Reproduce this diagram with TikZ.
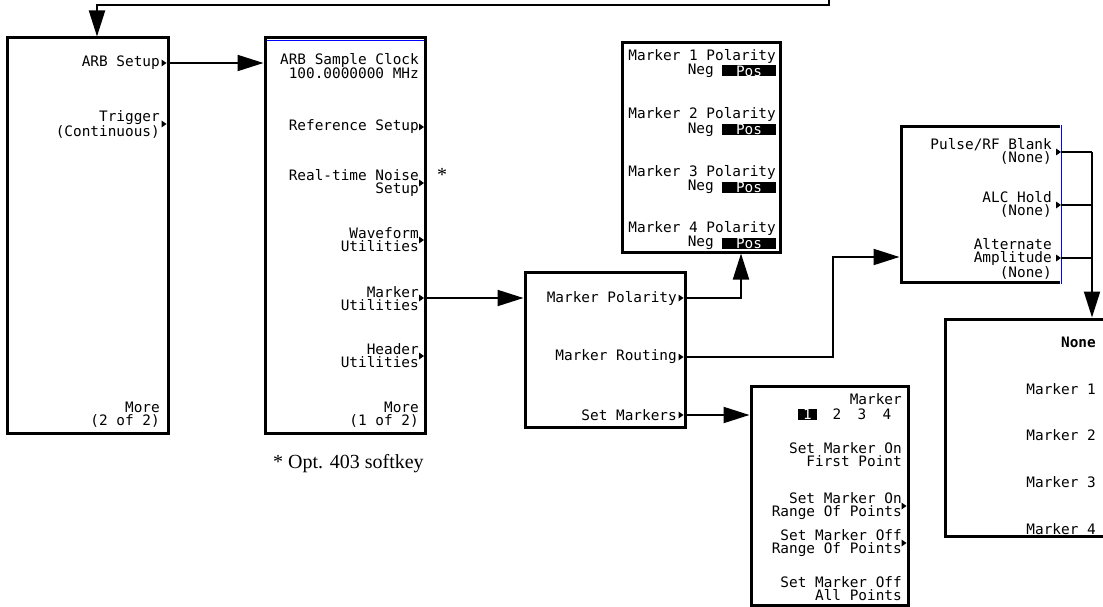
\documentclass[tikz,border=0pt]{standalone}
\usepackage{fontspec}
\setmainfont{Liberation Serif}
\newfontfamily\keyfont{DejaVu Sans Mono}
\usetikzlibrary{arrows.meta,calc}
\newcommand\skey[1]{\fill (#1) -- ++(-5,-3.5) -- ++(0,7) -- cycle;}
\begin{document}
\begin{tikzpicture}[x=1pt,y=-1pt,
  panel/.style={draw, line width=3pt, inner sep=0pt},
  conn/.style={line width=2pt},
  arr/.style={-{Triangle[length=26pt,width=16pt]}},
  key/.style={font=\keyfont\fontsize{14.4}{13}\selectfont, anchor=east, align=right, inner sep=0pt},
  keyt/.style={key, font=\keyfont\fontsize{14.4}{12.5}\selectfont},
  hilite/.style={fill=black, text=white, inner sep=0pt, font=\keyfont\fontsize{14.4}{13}\selectfont}
]
\useasboundingbox (0,0) rectangle (1103,607);

% panels
\node[panel, minimum width=161pt, minimum height=395pt] (L) at (87.5,235.5) {};
\node[panel, minimum width=160pt, minimum height=395pt] (S) at (345,235.5) {};
\node[panel, minimum width=158pt, minimum height=209pt] (MP) at (701,147.5) {};
\node[panel, minimum width=160pt, minimum height=155pt] (MM) at (605,349.5) {};
\node[panel, minimum width=161pt, minimum height=155pt] (PU) at (981.5,204.5) {};
\node[panel, minimum width=157pt, minimum height=219pt] (SM) at (829.5,495.5) {};
\node[panel, minimum width=175pt, minimum height=217pt] (NO) at (1032.5,427.5) {};

% colour details
\draw[blue, line width=0.8pt] (266.5,40) -- (424,40);
\draw[white, line width=3.4pt] (1062,125) -- (1062,284);
\draw[blue, line width=1.2pt] (1061.5,125.5) -- (1061.5,283.5);

% softkey points
\coordinate (kA) at (166.5,63);
\coordinate (kT) at (166.5,124);
\coordinate (kRef) at (424,127);
\coordinate (kNoise) at (424,183);
\coordinate (kWave) at (424,240);
\coordinate (kMU) at (424,298);
\coordinate (kHU) at (424,356);
\coordinate (kMP) at (683.5,298);
\coordinate (kMR) at (683.5,357);
\coordinate (kSM) at (683.5,415);
\coordinate (kP1) at (1061,152);
\coordinate (kP2) at (1061,205);
\coordinate (kP3) at (1061,258);
\coordinate (kR1) at (906.5,506);
\coordinate (kR2) at (906.5,543);
\foreach \k in {kA,kT,kRef,kNoise,kWave,kMU,kHU,kMP,kMR,kSM,kP1,kP2,kP3,kR1,kR2}{\skey{\k}}

% helper coordinates
\coordinate (fb) at (829,-10);
\coordinate (fbturn) at (97,5);
\coordinate (mpup) at (741,298);
\coordinate (mrc) at (833,257);
\coordinate (bus) at (1092,152);

% connectors
\draw[conn,arr] (fb) |- (fbturn) -- (fbturn |- L.north);
\draw[conn,arr] (kA) -- (kA -| S.west);
\draw[conn,arr] (kMU) -- (kMU -| MM.west);
\draw[conn,arr] (kMP) -- (mpup) -- (mpup |- MP.south);
\draw[conn,arr] (kMR) -| (mrc) -- (mrc -| PU.west);
\draw[conn,arr] (kSM) -- (kSM -| SM.west);
\draw[conn] (kP1) -- (bus);
\draw[conn] (kP2) -- (kP2 -| bus);
\draw[conn] (kP3) -- (kP3 -| bus);
\draw[conn,arr] (bus) -- (bus |- NO.north);

% left panel
\node[key] (tA) at (160,63) {ARB Setup};
\node[key] (tT) at (160,124) {Trigger\\(Continuous)};
\node[key] (tM2) at (160,415) {More\\(2 of 2)};

% second panel
\node[keyt] (tClk) at (419,66) {ARB Sample Clock\\100.0000000 MHz};
\node[key] (tRef) at (419,127) {Reference Setup};
\node[key] (tNoise) at (419,183) {Real-time Noise\\Setup};
\node[key] (tWave) at (419,240) {Waveform\\Utilities};
\node[key] (tMU) at (419,299) {Marker\\Utilities};
\node[key] (tHU) at (419,356) {Header\\Utilities};
\node[key] (tM1) at (419,415) {More\\(1 of 2)};
\node[anchor=base, inner sep=0pt, font=\fontsize{20}{22}\selectfont] (ast) at (442,181) {*};
\node[anchor=base west, inner sep=0pt, font=\fontsize{20}{22}\selectfont] (foot) at (273,468) {* Opt. 403 softkey};

% marker menu
\node[key] (tMP) at (677,298) {Marker Polarity};
\node[key] (tMR) at (677,357) {Marker Routing};
\node[key] (tSM) at (677,415) {Set Markers};

% marker polarity panel
\foreach \i/\ya/\yb in {1/56/71, 2/114.5/129.5, 3/172/187, 4/228/243}{
  \node[key] (mpl\i) at (776,\ya) {Marker \i{} Polarity};
  \node[key] (neg\i) at (714,\yb) {Neg};
  \node[hilite, minimum width=54pt, minimum height=11pt] (pos\i) at (749,\yb) {Pos};
}

% pulse panel
\node[key] (tP1) at (1052,151.5) {Pulse/RF Blank\\(None)};
\node[key] (tP2) at (1052,204.5) {ALC Hold\\(None)};
\node[keyt] (tP3) at (1052,259) {Alternate\\Amplitude\\(None)};

% set markers panel
\node[key] (tMk) at (902,399) {Marker};
\node[hilite, minimum width=19pt, minimum height=11pt] (n1) at (807.5,414.5) {1};
\node[key, anchor=center] (n2) at (837,414.5) {2};
\node[key, anchor=center] (n3) at (862,414.5) {3};
\node[key, anchor=center] (n4) at (887,414.5) {4};
\node[keyt] (tS1) at (902,454.5) {Set Marker On\\First Point};
\node[keyt] (tS2) at (902,506) {Set Marker On\\Range Of Points};
\node[keyt] (tS3) at (902,543) {Set Marker Off\\Range Of Points};
\node[keyt] (tS4) at (902,588.5) {Set Marker Off\\All Points};

% none panel
\node[key, font=\keyfont\bfseries\fontsize{14.4}{13}\selectfont] (tN0) at (1096,342) {None};
\node[key] (tN1) at (1096,389) {Marker 1};
\node[key] (tN2) at (1096,435) {Marker 2};
\node[key] (tN3) at (1096,482) {Marker 3};
\node[key] (tN4) at (1096,529) {Marker 4};
\end{tikzpicture}
\end{document}
